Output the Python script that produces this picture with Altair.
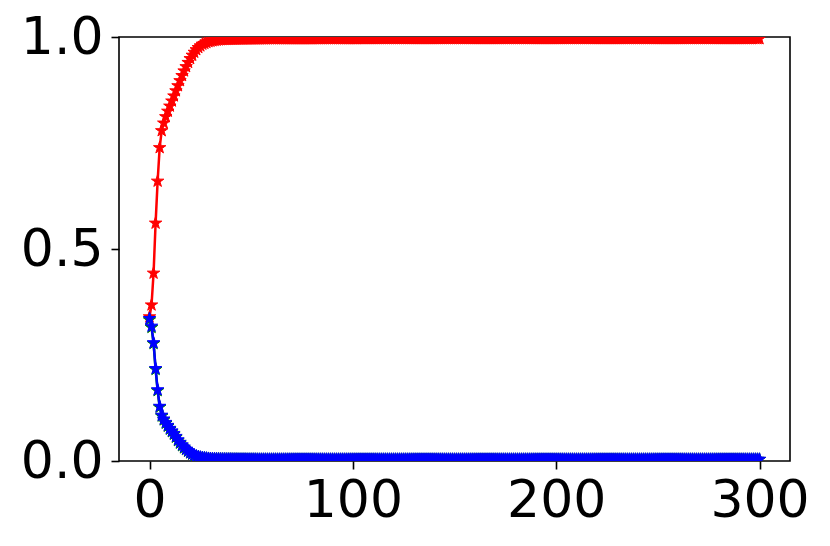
import altair as alt
import pandas as pd

# ---- values (t = 0, 1, 2, ... 300) ----
red_head = [
    0.340, 0.368, 0.443, 0.561, 0.660, 0.739, 0.779, 0.797, 0.812, 0.825,
    0.837, 0.849, 0.861, 0.873, 0.885, 0.897, 0.909, 0.920, 0.930, 0.940,
    0.949, 0.957, 0.964, 0.970, 0.975, 0.979, 0.983, 0.985, 0.987, 0.989,
    0.990, 0.991, 0.992, 0.9925, 0.993, 0.9935, 0.994,
]
red_tail = [
    0.9942, 0.9943, 0.9944, 0.9945, 0.9946, 0.9947, 0.9948, 0.9949, 0.9950, 0.9950, 0.9951,
    0.9951, 0.9952, 0.9952, 0.9953, 0.9953, 0.9954, 0.9954, 0.9955, 0.9955, 0.9955, 0.9956,
    0.9957, 0.9957, 0.9957, 0.9957, 0.9957, 0.9957, 0.9957, 0.9957, 0.9957, 0.9957, 0.9957,
    0.9957, 0.9957, 0.9957, 0.9957, 0.9957, 0.9957, 0.9957, 0.9957, 0.9957, 0.9957, 0.9957,
    0.9958, 0.9958, 0.9958, 0.9958, 0.9958, 0.9958, 0.9958, 0.9958, 0.9958, 0.9958, 0.9958,
    0.9958, 0.9958, 0.9958, 0.9958, 0.9958, 0.9958, 0.9958, 0.9958, 0.9958, 0.9958, 0.9958,
    0.996, 0.996, 0.996, 0.996, 0.996, 0.996, 0.996, 0.996, 0.996, 0.996, 0.996,
    0.996, 0.996, 0.996, 0.996, 0.996, 0.996, 0.996, 0.996, 0.996, 0.996, 0.996,
    0.996, 0.996, 0.996, 0.996, 0.996, 0.996, 0.996, 0.996, 0.996, 0.996, 0.996,
    0.996, 0.996, 0.996, 0.996, 0.996, 0.996, 0.996, 0.996, 0.996, 0.996, 0.996,
    0.996, 0.996, 0.996, 0.996, 0.996, 0.996, 0.996, 0.996, 0.996, 0.996, 0.996,
    0.996, 0.996, 0.996, 0.996, 0.996, 0.996, 0.996, 0.996, 0.996, 0.996, 0.996,
    0.996, 0.996, 0.996, 0.996, 0.996, 0.996, 0.996, 0.996, 0.996, 0.996, 0.996,
    0.996, 0.996, 0.996, 0.996, 0.996, 0.996, 0.996, 0.996, 0.996, 0.996, 0.996,
    0.996, 0.996, 0.996, 0.996, 0.996, 0.996, 0.996, 0.996, 0.996, 0.996, 0.996,
    0.996, 0.996, 0.996, 0.996, 0.996, 0.996, 0.996, 0.996, 0.996, 0.996, 0.996,
    0.996, 0.996, 0.996, 0.996, 0.996, 0.996, 0.996, 0.996, 0.996, 0.996, 0.996,
    0.996, 0.996, 0.996, 0.996, 0.996, 0.996, 0.996, 0.996, 0.996, 0.996, 0.996,
    0.996, 0.996, 0.996, 0.996, 0.996, 0.996, 0.996, 0.996, 0.996, 0.996, 0.996,
    0.996, 0.996, 0.996, 0.996, 0.996, 0.996, 0.996, 0.996, 0.996, 0.996, 0.996,
    0.996, 0.996, 0.996, 0.996, 0.996, 0.996, 0.996, 0.996, 0.996, 0.996, 0.996,
    0.996, 0.996, 0.996, 0.996, 0.996, 0.996, 0.996, 0.996, 0.996, 0.996, 0.996,
    0.996, 0.996, 0.996, 0.996, 0.996, 0.996, 0.996, 0.996, 0.996, 0.996, 0.996,
    0.996, 0.996, 0.996, 0.996, 0.996, 0.996, 0.996, 0.996, 0.996, 0.996, 0.996,
]

blue_head = [
    0.336, 0.318, 0.279, 0.218, 0.168, 0.129, 0.108, 0.099, 0.091, 0.084,
    0.077, 0.071, 0.065, 0.058, 0.050, 0.044, 0.038, 0.033, 0.028, 0.024,
    0.020, 0.017, 0.014, 0.012, 0.010, 0.009, 0.008, 0.0072, 0.0066, 0.0060,
    0.0056, 0.0053, 0.0051, 0.0049, 0.0047, 0.0046, 0.0045,
]
blue_tail = [
    0.0045, 0.0044, 0.0044, 0.0044, 0.0043, 0.0043, 0.0043, 0.0042, 0.0042, 0.0042, 0.0042,
    0.0041, 0.0041, 0.0041, 0.0041, 0.0041, 0.0040, 0.0040, 0.0040, 0.0040, 0.0040, 0.0040,
    0.004, 0.004, 0.004, 0.004, 0.004, 0.004, 0.004, 0.004, 0.004, 0.004, 0.004,
    0.004, 0.004, 0.004, 0.004, 0.004, 0.004, 0.004, 0.004, 0.004, 0.004, 0.004,
    0.004, 0.004, 0.004, 0.004, 0.004, 0.004, 0.004, 0.004, 0.004, 0.004, 0.004,
    0.004, 0.004, 0.004, 0.004, 0.004, 0.004, 0.004, 0.004, 0.004, 0.004, 0.004,
    0.004, 0.004, 0.004, 0.004, 0.004, 0.004, 0.004, 0.004, 0.004, 0.004, 0.004,
    0.004, 0.004, 0.004, 0.004, 0.004, 0.004, 0.004, 0.004, 0.004, 0.004, 0.004,
    0.004, 0.004, 0.004, 0.004, 0.004, 0.004, 0.004, 0.004, 0.004, 0.004, 0.004,
    0.004, 0.004, 0.004, 0.004, 0.004, 0.004, 0.004, 0.004, 0.004, 0.004, 0.004,
    0.004, 0.004, 0.004, 0.004, 0.004, 0.004, 0.004, 0.004, 0.004, 0.004, 0.004,
    0.004, 0.004, 0.004, 0.004, 0.004, 0.004, 0.004, 0.004, 0.004, 0.004, 0.004,
    0.004, 0.004, 0.004, 0.004, 0.004, 0.004, 0.004, 0.004, 0.004, 0.004, 0.004,
    0.004, 0.004, 0.004, 0.004, 0.004, 0.004, 0.004, 0.004, 0.004, 0.004, 0.004,
    0.004, 0.004, 0.004, 0.004, 0.004, 0.004, 0.004, 0.004, 0.004, 0.004, 0.004,
    0.004, 0.004, 0.004, 0.004, 0.004, 0.004, 0.004, 0.004, 0.004, 0.004, 0.004,
    0.004, 0.004, 0.004, 0.004, 0.004, 0.004, 0.004, 0.004, 0.004, 0.004, 0.004,
    0.004, 0.004, 0.004, 0.004, 0.004, 0.004, 0.004, 0.004, 0.004, 0.004, 0.004,
    0.004, 0.004, 0.004, 0.004, 0.004, 0.004, 0.004, 0.004, 0.004, 0.004, 0.004,
    0.004, 0.004, 0.004, 0.004, 0.004, 0.004, 0.004, 0.004, 0.004, 0.004, 0.004,
    0.004, 0.004, 0.004, 0.004, 0.004, 0.004, 0.004, 0.004, 0.004, 0.004, 0.004,
    0.004, 0.004, 0.004, 0.004, 0.004, 0.004, 0.004, 0.004, 0.004, 0.004, 0.004,
    0.004, 0.004, 0.004, 0.004, 0.004, 0.004, 0.004, 0.004, 0.004, 0.004, 0.004,
    0.004, 0.004, 0.004, 0.004, 0.004, 0.004, 0.004, 0.004, 0.004, 0.004, 0.004,
]

green_head = [
    0.333, 0.315, 0.277, 0.216, 0.166, 0.127, 0.106, 0.097, 0.089, 0.082,
    0.075, 0.069, 0.063, 0.056, 0.048, 0.042, 0.036, 0.031, 0.027, 0.023,
    0.019, 0.016, 0.013, 0.011, 0.0095, 0.0085, 0.0075, 0.0068, 0.0062, 0.0058,
    0.0054, 0.0051, 0.0049, 0.0047, 0.0045, 0.0044, 0.0043,
]
green_tail = [
    0.0043, 0.0042, 0.0042, 0.0042, 0.0041, 0.0041, 0.0041, 0.0040, 0.0040, 0.0040, 0.0040,
    0.0039, 0.0039, 0.0039, 0.0039, 0.0039, 0.0039, 0.0038, 0.0038, 0.0038, 0.0038, 0.0038,
    0.0038, 0.0038, 0.0038, 0.0038, 0.0038, 0.0038, 0.0038, 0.0038, 0.0038, 0.0038, 0.0038,
    0.0038, 0.0038, 0.0038, 0.0038, 0.0038, 0.0038, 0.0038, 0.0038, 0.0038, 0.0038, 0.0038,
    0.0038, 0.0038, 0.0038, 0.0038, 0.0038, 0.0038, 0.0038, 0.0038, 0.0038, 0.0038, 0.0038,
    0.0038, 0.0038, 0.0038, 0.0038, 0.0038, 0.0038, 0.0038, 0.0038, 0.0038, 0.0038, 0.0038,
    0.0038, 0.0038, 0.0038, 0.0038, 0.0038, 0.0038, 0.0038, 0.0038, 0.0038, 0.0038, 0.0038,
    0.0038, 0.0038, 0.0038, 0.0038, 0.0038, 0.0038, 0.0038, 0.0038, 0.0038, 0.0038, 0.0038,
    0.0038, 0.0038, 0.0038, 0.0038, 0.0038, 0.0038, 0.0038, 0.0038, 0.0038, 0.0038, 0.0038,
    0.0038, 0.0038, 0.0038, 0.0038, 0.0038, 0.0038, 0.0038, 0.0038, 0.0038, 0.0038, 0.0038,
    0.0038, 0.0038, 0.0038, 0.0038, 0.0038, 0.0038, 0.0038, 0.0038, 0.0038, 0.0038, 0.0038,
    0.0038, 0.0038, 0.0038, 0.0038, 0.0038, 0.0038, 0.0038, 0.0038, 0.0038, 0.0038, 0.0038,
    0.0038, 0.0038, 0.0038, 0.0038, 0.0038, 0.0038, 0.0038, 0.0038, 0.0038, 0.0038, 0.0038,
    0.0038, 0.0038, 0.0038, 0.0038, 0.0038, 0.0038, 0.0038, 0.0038, 0.0038, 0.0038, 0.0038,
    0.0038, 0.0038, 0.0038, 0.0038, 0.0038, 0.0038, 0.0038, 0.0038, 0.0038, 0.0038, 0.0038,
    0.0038, 0.0038, 0.0038, 0.0038, 0.0038, 0.0038, 0.0038, 0.0038, 0.0038, 0.0038, 0.0038,
    0.0038, 0.0038, 0.0038, 0.0038, 0.0038, 0.0038, 0.0038, 0.0038, 0.0038, 0.0038, 0.0038,
    0.0038, 0.0038, 0.0038, 0.0038, 0.0038, 0.0038, 0.0038, 0.0038, 0.0038, 0.0038, 0.0038,
    0.0038, 0.0038, 0.0038, 0.0038, 0.0038, 0.0038, 0.0038, 0.0038, 0.0038, 0.0038, 0.0038,
    0.0038, 0.0038, 0.0038, 0.0038, 0.0038, 0.0038, 0.0038, 0.0038, 0.0038, 0.0038, 0.0038,
    0.0038, 0.0038, 0.0038, 0.0038, 0.0038, 0.0038, 0.0038, 0.0038, 0.0038, 0.0038, 0.0038,
    0.0038, 0.0038, 0.0038, 0.0038, 0.0038, 0.0038, 0.0038, 0.0038, 0.0038, 0.0038, 0.0038,
    0.0038, 0.0038, 0.0038, 0.0038, 0.0038, 0.0038, 0.0038, 0.0038, 0.0038, 0.0038, 0.0038,
    0.0038, 0.0038, 0.0038, 0.0038, 0.0038, 0.0038, 0.0038, 0.0038, 0.0038, 0.0038, 0.0038,
]

red = red_head + red_tail
blue = blue_head + blue_tail
green = green_head + green_tail

x_ticks = [0, 100, 200, 300]
y_ticks = [0.0, 0.5, 1.0]

STAR = ("M0,-1L0.2245,-0.309L0.9511,-0.309L0.3633,0.118L0.5878,0.809"
        "L0,0.382L-0.5878,0.809L-0.3633,0.118L-0.9511,-0.309L-0.2245,-0.309Z")

FONT = "DejaVu Sans"
FS = 52

x_scale = alt.Scale(domain=[-15, 315], nice=False, zero=False)
y_scale = alt.Scale(domain=[0, 1], nice=False, zero=False)

x_axis = alt.Axis(values=x_ticks, title=None, grid=False, domain=False,
                  labelFont=FONT, labelFontSize=FS, labelColor="black",
                  tickSize=8, tickWidth=1.6, tickColor="black",
                  labelPadding=6, labelFlush=False, labelOverlap=False, format="d")
y_axis = alt.Axis(values=y_ticks, title=None, grid=False, domain=False,
                  labelFont=FONT, labelFontSize=FS, labelColor="black",
                  tickSize=8, tickWidth=1.6, tickColor="black",
                  labelPadding=8, labelFlush=False, labelOverlap=False, format=".1f")


def series(vals, color):
    df = pd.DataFrame({"t": list(range(len(vals))), "v": vals})
    base = alt.Chart(df).encode(
        x=alt.X("t:Q", scale=x_scale, axis=x_axis),
        y=alt.Y("v:Q", scale=y_scale, axis=y_axis),
    )
    line = base.mark_line(color=color, strokeWidth=2.5, clip=True)
    pts = base.mark_point(shape=STAR, filled=True, color=color, size=170,
                          opacity=1, stroke=color, strokeWidth=1, clip=True)
    return line + pts


chart = alt.layer(
    series(red, "#ff0000"),
    series(green, "#008000"),
    series(blue, "#0000ff"),
).properties(
    width=671,
    height=424,
    autosize=alt.AutoSizeParams(type="none"),
    padding={"left": 111, "top": 29, "right": 30, "bottom": 75},
    background="white",
).configure_view(
    stroke="black", strokeWidth=1.6, fill="white"
)

chart.save("out.html", embed_options={"renderer": "svg", "actions": False})
